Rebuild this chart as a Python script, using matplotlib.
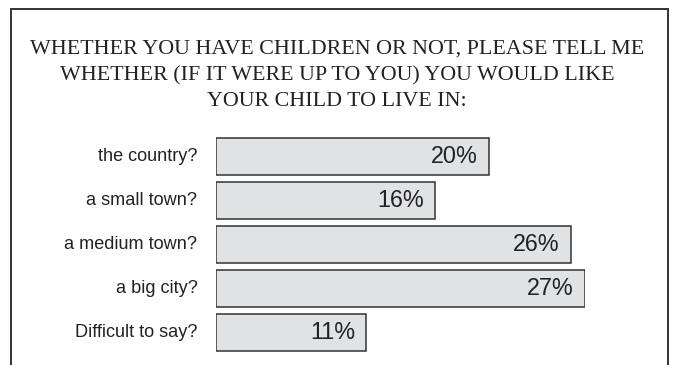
import matplotlib
matplotlib.use("Agg")
import matplotlib.pyplot as plt
from matplotlib.patches import Rectangle

# Survey answers, top to bottom
categories = ["the country?", "a small town?", "a medium town?", "a big city?", "Difficult to say?"]
shares = [20, 16, 26, 27, 11]
value_labels = ["20%", "16%", "26%", "27%", "11%"]

TITLE = ("WHETHER YOU HAVE CHILDREN OR NOT, PLEASE TELL ME\n"
         "WHETHER (IF IT WERE UP TO YOU) YOU WOULD LIKE\n"
         "YOUR CHILD TO LIVE IN:")

W, H = 675, 365
fig = plt.figure(figsize=(W / 100, H / 100), dpi=100)
fig.patch.set_facecolor("white")

# Open-bottomed frame around the whole chart
frame = Rectangle((11 / W, -0.05), (668 - 11) / W, (H - 9) / H + 0.05,
                  transform=fig.transFigure, fill=False,
                  edgecolor="#333333", linewidth=1.4)
fig.patches.append(frame)

fig.text(337 / W, 1 - 75.5 / H, TITLE, ha="center", va="center",
         family="Liberation Serif", fontsize=15.8, color="#222222",
         linespacing=1.52)

# Axes placed so that x = 0 sits at the bars' left edge
x0, x27 = 216.5, 584.5
top, bottom = 134.5, 354.5
ax = fig.add_axes([x0 / W, (H - bottom) / H, (x27 - x0) / W, (bottom - top) / H])
ax.set_xlim(0, 27)
ax.set_ylim(len(categories) - 0.5, -0.5)
ax.axis("off")

ypos = list(range(len(categories)))
ax.barh(ypos, shares, height=0.84, color="#e1e2e4",
        edgecolor="#333333", linewidth=1.1)

for y, v, lab, cat in zip(ypos, shares, value_labels, categories):
    ax.text(v - 0.8, y, lab, ha="right", va="center",
            family="Liberation Sans", fontsize=16.8, color="#222222")
    ax.text(-1.4, y, cat, ha="right", va="center",
            family="Liberation Sans", fontsize=13.1, color="#222222")

fig.savefig("out.png", dpi=100)
